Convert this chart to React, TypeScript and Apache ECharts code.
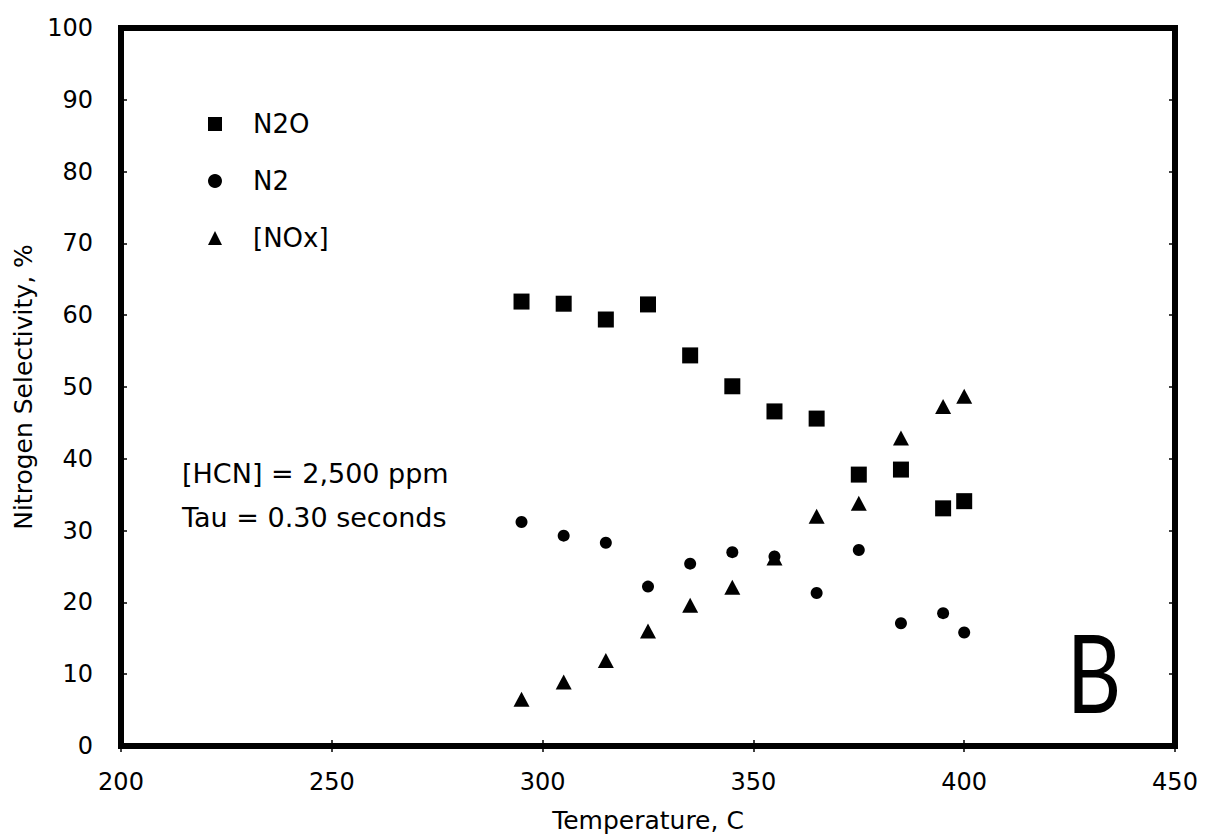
import React, { useEffect, useRef } from "react";
import * as echarts from "echarts";

const temperatures = [295, 305, 315, 325, 335, 345, 355, 365, 375, 385, 395, 400];
const n2oValues = [61.9, 61.6, 59.4, 61.5, 54.4, 50.1, 46.6, 45.6, 37.8, 38.5, 33.1, 34.1];
const n2Values = [31.2, 29.3, 28.3, 22.2, 25.4, 27.0, 26.4, 21.3, 27.3, 17.1, 18.5, 15.8];
const noxValues = [6.5, 8.9, 11.9, 16.0, 19.6, 22.1, 26.2, 32.0, 33.8, 42.9, 47.3, 48.7];
const seriesNames = ["N2O", "N2", "[NOx]"];
const annotations = ["[HCN] = 2,500 ppm", "Tau = 0.30 seconds"];
const panelLetter = "B";

const FONT = "'DejaVu Sans', Verdana, sans-serif";

const pairs = (vals: number[]) => temperatures.map((t, i) => [t, vals[i]]);

export default function App() {
  const ref = useRef<HTMLDivElement>(null);
  useEffect(() => {
    if (!ref.current) return;
    const chart = echarts.init(ref.current, null, { renderer: "svg" });
    const tickStyle = { show: true, inside: true, length: 6, lineStyle: { color: "#000", width: 1.5 } };
    const markerStyle = { color: "#000", opacity: 1 };
    chart.setOption({
      animation: false,
      backgroundColor: "#fff",
      grid: {
        left: 121,
        right: 34,
        top: 28,
        bottom: 91,
        show: true,
        borderColor: "#000",
        borderWidth: 6,
      },
      legend: {
        orient: "vertical",
        left: 203,
        top: 106,
        itemWidth: 14,
        itemHeight: 14,
        itemGap: 31,
        data: [
          { name: seriesNames[0], icon: "rect" },
          { name: seriesNames[1], icon: "circle" },
          { name: seriesNames[2], icon: "triangle" },
        ],
        textStyle: {
          fontFamily: FONT,
          fontSize: 26,
          color: "#000",
          padding: [0, 0, 0, 26],
        },
      },
      xAxis: [
        {
          type: "value",
          min: 200,
          max: 450,
          interval: 50,
          position: "bottom",
          name: "Temperature, C",
          nameLocation: "middle",
          nameGap: 62,
          nameTextStyle: { fontFamily: FONT, fontSize: 25, color: "#000" },
          axisLine: { show: false },
          axisTick: tickStyle,
          axisLabel: { fontFamily: FONT, fontSize: 24, color: "#000", margin: 24 },
          splitLine: { show: false },
        },
        {
          type: "value",
          min: 200,
          max: 450,
          interval: 50,
          position: "top",
          axisLine: { show: false },
          axisTick: tickStyle,
          axisLabel: { show: false },
          splitLine: { show: false },
        },
      ],
      yAxis: [
        {
          type: "value",
          min: 0,
          max: 100,
          interval: 10,
          position: "left",
          name: "Nitrogen Selectivity, %",
          nameLocation: "middle",
          nameGap: 84,
          nameTextStyle: { fontFamily: FONT, fontSize: 25, color: "#000" },
          axisLine: { show: false },
          axisTick: tickStyle,
          axisLabel: { fontFamily: FONT, fontSize: 24, color: "#000", margin: 28 },
          splitLine: { show: false },
        },
        {
          type: "value",
          min: 0,
          max: 100,
          interval: 10,
          position: "right",
          axisLine: { show: false },
          axisTick: tickStyle,
          axisLabel: { show: false },
          splitLine: { show: false },
        },
      ],
      series: [
        {
          name: seriesNames[1],
          type: "scatter",
          symbol: "circle",
          symbolSize: 12,
          itemStyle: markerStyle,
          data: pairs(n2Values),
        },
        {
          name: seriesNames[2],
          type: "scatter",
          symbol: "triangle",
          symbolSize: [16, 15],
          itemStyle: markerStyle,
          data: pairs(noxValues),
        },
        {
          name: seriesNames[0],
          type: "scatter",
          symbol: "rect",
          symbolSize: 16,
          itemStyle: markerStyle,
          data: pairs(n2oValues),
        },
      ],
      graphic: [
        {
          type: "text",
          x: 182,
          y: 473,
          style: {
            text: annotations[0],
            font: `27px ${FONT}`,
            fill: "#000",
            verticalAlign: "middle",
          },
        },
        {
          type: "text",
          x: 182,
          y: 517,
          style: {
            text: annotations[1],
            font: `27px ${FONT}`,
            fill: "#000",
            verticalAlign: "middle",
          },
        },
        {
          type: "text",
          x: 1094,
          y: 671,
          scaleX: 0.78,
          style: {
            text: panelLetter,
            font: `400 108px Lato, ${FONT}`,
            fill: "#000",
            align: "center",
            verticalAlign: "middle",
          },
        },
      ],
    });
    return () => chart.dispose();
  }, []);
  return (
    <div
      ref={ref}
      style={{ position: "fixed", left: 0, top: 0, width: 1209, height: 838 }}
    />
  );
}
